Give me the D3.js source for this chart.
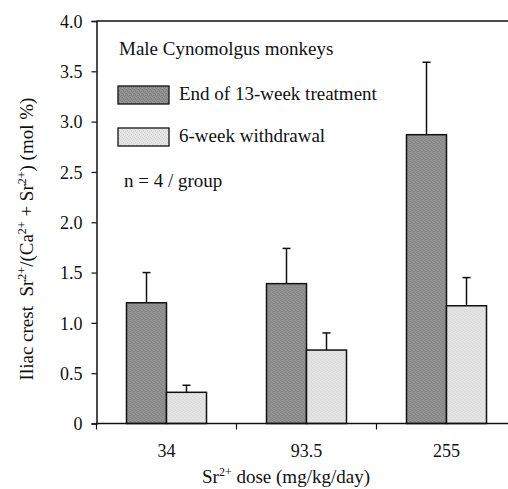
<!DOCTYPE html>
<html>
<head>
<meta charset="utf-8">
<script src="https://cdn.jsdelivr.net/npm/d3@7"></script>
<style>
body { margin: 0; background: #fff; }
svg text { font-family: "Liberation Serif", "Times New Roman", serif; fill: #111; }
</style>
</head>
<body>
<div id="chart"></div>
<script>
// doses on the x axis
var doses = ["34", "93.5", "255"];
var series = ["End of 13-week treatment", "6-week withdrawal"];
// mean values and upper error bar ends (mol %)
var treatment = [1.2, 1.39, 2.87];
var treatmentErr = [1.5, 1.74, 3.59];
var withdrawal = [0.31, 0.73, 1.17];
var withdrawalErr = [0.38, 0.9, 1.45];
var yTicks = [0, 0.5, 1, 1.5, 2, 2.5, 3, 3.5, 4];

var w = 508, h = 489;
var margin = {left: 96.5, top: 21, bottom: 423.5};

var svg = d3.select("#chart").append("svg")
	.attr("width", w)
	.attr("height", h);

// halftone looking fills
var defs = svg.append("defs");
var dots = [[0, 0], [2, 1], [1, 3], [3, 2], [1, 1], [3, 3]];
function pat(id, base, dot) {
	var p = defs.append("pattern").attr("id", id)
		.attr("width", 4).attr("height", 4)
		.attr("patternUnits", "userSpaceOnUse");
	p.append("rect").attr("width", 4).attr("height", 4).attr("fill", base);
	dots.forEach(function(d, i) {
		p.append("rect").attr("x", d[0]).attr("y", d[1]).attr("width", 1).attr("height", 1)
			.attr("fill", dot).attr("opacity", i < 4 ? 1 : 0.5);
	});
}
pat("darkFill", "#959595", "#7c7c7c");
pat("lightFill", "#e7e7e7", "#d3d3d3");
var fills = ["url(#darkFill)", "url(#lightFill)"];

var x = d3.scaleBand().domain(doses).range([margin.left, margin.left + 140 * 3]).padding(0);
var x1 = d3.scaleBand().domain(series).range([0, x.bandwidth()])
	.paddingInner(0).paddingOuter(0.75);
var y = d3.scaleLinear().domain([0, 4]).range([margin.bottom, margin.top]);

// top frame line
svg.append("line")
	.attr("x1", margin.left).attr("x2", w + 10)
	.attr("y1", margin.top).attr("y2", margin.top)
	.attr("stroke", "#111").attr("stroke-width", 1.5);

// y axis
var yAxis = svg.append("g")
	.attr("transform", "translate(" + margin.left + ",0)")
	.call(d3.axisLeft(y).tickValues(yTicks).tickSize(5).tickPadding(9)
		.tickFormat(function(d) { return d == 0 ? "0" : d3.format(".1f")(d); }));
yAxis.select(".domain").attr("stroke", "#111").attr("stroke-width", 1.5);
yAxis.selectAll(".tick line").attr("stroke", "#111").attr("stroke-width", 1.2);
yAxis.selectAll("text").style("font-size", "18px").attr("dy", "0.34em");

// bars
var data = doses.map(function(d, i) {
	return [
		{dose: d, s: series[0], v: treatment[i], e: treatmentErr[i], k: 0},
		{dose: d, s: series[1], v: withdrawal[i], e: withdrawalErr[i], k: 1}
	];
});

var groups = svg.selectAll("g.grp").data(data).enter().append("g")
	.attr("class", "grp")
	.attr("transform", function(d) { return "translate(" + x(d[0].dose) + ",0)"; });

// error bars (upper only)
groups.selectAll("line.err").data(function(d) { return d; }).enter().append("line")
	.attr("class", "err")
	.attr("x1", function(d) { return x1(d.s) + x1.bandwidth() / 2; })
	.attr("x2", function(d) { return x1(d.s) + x1.bandwidth() / 2; })
	.attr("y1", function(d) { return y(d.v); })
	.attr("y2", function(d) { return y(d.e); })
	.attr("stroke", "#111").attr("stroke-width", 1.5);
groups.selectAll("line.cap").data(function(d) { return d; }).enter().append("line")
	.attr("class", "cap")
	.attr("x1", function(d) { return x1(d.s) + x1.bandwidth() / 2 - 4; })
	.attr("x2", function(d) { return x1(d.s) + x1.bandwidth() / 2 + 4; })
	.attr("y1", function(d) { return y(d.e); })
	.attr("y2", function(d) { return y(d.e); })
	.attr("stroke", "#111").attr("stroke-width", 1.5);

groups.selectAll("rect").data(function(d) { return d; }).enter().append("rect")
	.attr("x", function(d) { return x1(d.s); })
	.attr("y", function(d) { return y(d.v); })
	.attr("width", x1.bandwidth())
	.attr("height", function(d) { return y(0) - y(d.v); })
	.attr("fill", function(d) { return fills[d.k]; })
	.attr("stroke", "#111").attr("stroke-width", 1.5);

// x axis, ticks between groups
var xAxis = svg.append("g")
	.attr("transform", "translate(0," + margin.bottom + ")");
xAxis.append("line")
	.attr("x1", margin.left).attr("x2", w + 10)
	.attr("stroke", "#111").attr("stroke-width", 1.5);
xAxis.selectAll("line.tk").data(doses).enter().append("line")
	.attr("class", "tk")
	.attr("x1", function(d) { return x(d); }).attr("x2", function(d) { return x(d); })
	.attr("y1", 0).attr("y2", 6)
	.attr("stroke", "#111").attr("stroke-width", 1.2);
xAxis.selectAll("text").data(doses).enter().append("text")
	.attr("x", function(d) { return x(d) + x.bandwidth() / 2; })
	.attr("y", 33)
	.attr("text-anchor", "middle")
	.style("font-size", "18px")
	.text(function(d) { return d; });

// legend
svg.append("text").attr("x", 119).attr("y", 55)
	.style("font-size", "19px").text("Male Cynomolgus monkeys");
series.forEach(function(s, i) {
	var yy = 86 + i * 42;
	svg.append("rect").attr("x", 118).attr("y", yy).attr("width", 51).attr("height", 18)
		.attr("fill", fills[i]).attr("stroke", "#111").attr("stroke-width", 1.3);
	svg.append("text").attr("x", 179).attr("y", yy + 14)
		.style("font-size", "19px").text(s);
});
svg.append("text").attr("x", 124).attr("y", 187)
	.style("font-size", "19px").text("n = 4 / group");

// axis titles
var xt = svg.append("text").attr("x", 286).attr("y", 483)
	.attr("text-anchor", "middle").style("font-size", "19px");
xt.append("tspan").text("Sr");
xt.append("tspan").attr("dy", -7).style("font-size", "12px").text("2+");
xt.append("tspan").attr("dy", 7).text(" dose (mg/kg/day)");

var yt = svg.append("text")
	.attr("transform", "translate(33,239) rotate(-90)")
	.attr("text-anchor", "middle").style("font-size", "19px")
	.attr("xml:space", "preserve");
var parts = [["Iliac crest  Sr", 0], ["2+", 1], ["/(Ca", 0], ["2+", 1], [" + Sr", 0], ["2+", 1], [") (mol %)", 0]];
parts.forEach(function(p, i) {
	var prevSup = i > 0 && parts[i - 1][1];
	var t = yt.append("tspan").text(p[0]);
	if (p[1]) t.attr("dy", -7).style("font-size", "12px");
	else if (prevSup) t.attr("dy", 7);
});
</script>
</body>
</html>
